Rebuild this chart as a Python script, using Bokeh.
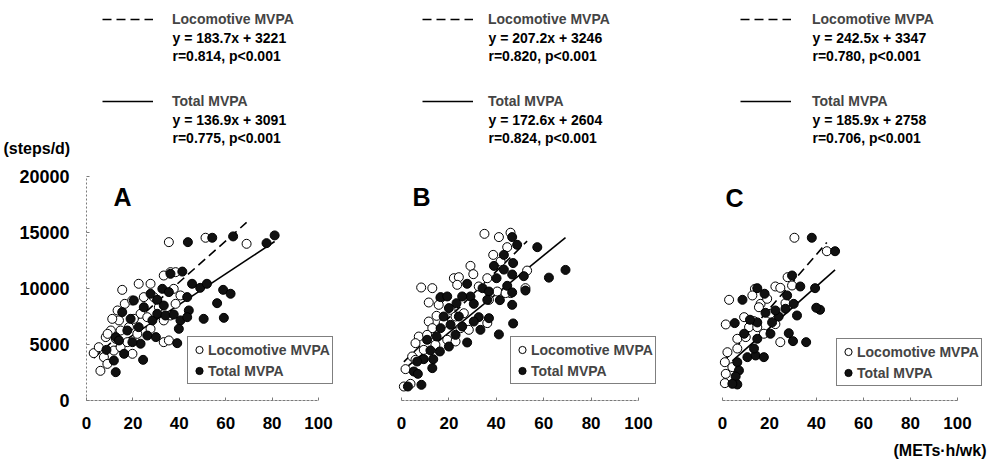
from bokeh.plotting import figure
from bokeh.models import Range1d, FixedTicker, Legend, LegendItem, Label
from bokeh.layouts import row, column
from bokeh.embed import file_html
from bokeh.resources import INLINE

# ---------------- data ----------------
panel_names = ["A", "B", "C"]

a_loco_x = [3.1, 6.0, 35.5, 51.3, 69.0, 15.4, 22.5, 27.6, 16.5, 13.4, 10.5, 8.3, 9.1, 33.3, 36.2, 38.4, 33.3, 35.5,
            37.6, 40.5, 24.7, 29.0, 30.5, 33.3, 23.3, 20.4, 18.3, 14.7, 21.9, 5.3, 7.5, 9.0, 11.8, 14.7, 17.6, 19.8,
            26.2, 31.2, 36.2, 38.4, 14.0, 27.6, 19.7, 11.1, 12.6]
a_loco_y = [4230, 2650, 14140, 14530, 13990, 9880, 10420, 10420, 8630, 8040, 6250, 5660, 5950, 11160, 11460, 11460,
            5210, 5360, 9970, 9380, 9230, 9230, 8930, 7150, 7740, 7290, 6550, 6250, 5950, 4760, 3870, 3270, 4460,
            4760, 5210, 4170, 7440, 8330, 7590, 8630, 7150, 6400, 8930, 7290, 5510]
a_total_x = [43.7, 54.2, 63.2, 77.6, 81.1, 36.2, 41.3, 45.5, 49.0, 51.9, 58.9, 62.1, 56.3, 50.5, 59.2, 44.1, 43.4,
             40.5, 39.8, 39.1, 29.9, 24.4, 12.6, 11.8, 8.6, 12.6, 16.2, 17.6, 19.0, 20.4, 22.5, 23.3, 26.2, 28.4,
             30.5, 32.7, 30.5, 33.3, 34.0, 37.6, 35.5, 43.4, 27.6, 24.7, 15.4, 14.0, 19.8]
a_total_y = [14140, 14530, 14650, 14050, 14740, 11310, 11510, 10420, 10060, 10420, 9880, 9530, 8690, 7290, 7380,
             8040, 9230, 7150, 6400, 5120, 5660, 3630, 2530, 3570, 4520, 5660, 4170, 6250, 7290, 8930, 6550, 5070,
             5800, 7150, 7740, 9970, 8990, 8480, 7590, 7680, 9680, 7440, 9530, 8330, 7890, 5360, 5210]

b_loco_x = [35.0, 41.1, 46.0, 44.6, 38.7, 41.8, 29.1, 30.3, 22.1, 24.2, 23.5, 8.3, 13.0, 11.5, 16.5, 36.2, 40.4,
            53.0, 46.0, 14.8, 11.5, 13.0, 7.3, 5.9, 4.5, 1.7, 1.0, 3.8, 20.7, 22.8, 26.3, 24.9, 28.4, 36.2, 19.3,
            22.8, 9.4, 5.9, 17.8, 32.6, 36.9, 43.9, 52.3, 15.7, 10.8, 14.3]
b_loco_y = [14880, 14590, 14980, 13690, 13000, 12410, 12020, 11280, 10920, 11010, 10330, 10090, 10030, 8750, 9140,
            10920, 9730, 11600, 9590, 7560, 7050, 6460, 5710, 5120, 3930, 2800, 1250, 1490, 8100, 7500, 7790, 6460,
            6310, 6910, 5420, 5270, 4520, 3630, 6910, 10180, 8990, 9590, 10030, 8540, 5860, 4970]
b_total_x = [46.7, 48.8, 57.3, 43.2, 47.1, 39.0, 62.2, 69.2, 51.6, 43.2, 46.7, 40.1, 44.6, 46.7, 52.3, 41.5, 46.7,
             47.1, 41.1, 27.7, 29.1, 34.2, 36.9, 30.5, 32.6, 33.3, 27.7, 36.9, 16.5, 19.3, 23.2, 25.6, 20.0, 24.2,
             20.7, 16.5, 25.6, 22.8, 20.0, 16.2, 12.2, 13.4, 13.0, 9.4, 6.6, 5.2, 6.9, 8.4, 2.7, 10.8, 14.8, 17.8,
             36.2, 30.5]
b_total_y = [14590, 13900, 13690, 13000, 12270, 12020, 10970, 11660, 11100, 11690, 11250, 10920, 10240, 9650, 9820,
             8960, 8540, 6880, 5900, 10420, 9290, 10030, 9730, 8630, 7440, 6310, 5180, 7350, 9230, 9290, 8690, 9290,
             8250, 7500, 6760, 6460, 6610, 5860, 4820, 4380, 4470, 3690, 2890, 3690, 3480, 2590, 2380, 1400, 1250,
             5420, 5720, 7500, 8990, 7050]

c_loco_x = [30.6, 44.4, 27.7, 22.5, 24.6, 29.6, 13.8, 12.7, 16.2, 2.8, 1.4, 6.3, 9.9, 2.1, 1.0, 1.4, 1.0, 13.4, 15.5,
            19.0, 24.6, 9.2, 6.3, 17.6, 11.3, 20.4, 26.8, 22.5, 4.2, 14.8]
c_loco_y = [14530, 13330, 11010, 10180, 10060, 10270, 9970, 9380, 8630, 8990, 6790, 5510, 5660, 4310, 3420, 2380,
            1550, 7080, 8330, 9080, 5210, 7440, 4640, 5960, 6550, 7740, 8690, 6820, 2980, 6550]
c_total_x = [38.0, 47.9, 29.6, 33.1, 39.4, 14.8, 17.9, 8.5, 27.5, 30.3, 26.8, 41.5, 39.9, 31.7, 18.3, 21.1, 23.9,
             14.8, 11.7, 5.2, 20.4, 28.2, 30.0, 35.6, 14.8, 10.6, 14.1, 17.6, 13.4, 6.3, 7.0, 5.6, 6.3, 4.2, 9.2, 22.5]
c_total_y = [14530, 13330, 11160, 10180, 10030, 10030, 9530, 8990, 9380, 8630, 8190, 8100, 8280, 7590, 7830, 6970,
             7500, 6970, 7210, 6910, 5960, 6010, 5300, 5210, 5510, 3870, 4020, 3870, 4640, 3420, 2680, 2140, 1430,
             1490, 5960, 8040]

loco_x = [a_loco_x, b_loco_x, c_loco_x]
loco_y = [a_loco_y, b_loco_y, c_loco_y]
total_x = [a_total_x, b_total_x, c_total_x]
total_y = [a_total_y, b_total_y, c_total_y]

# regression equations printed on the chart
loco_slope = [183.7, 207.2, 242.5]
loco_icpt = [3221, 3246, 3347]
loco_r = ["0.814", "0.820", "0.780"]
total_slope = [136.9, 172.6, 185.9]
total_icpt = [3091, 2604, 2758]
total_r = ["0.775", "0.824", "0.706"]

x_ticks = [0, 20, 40, 60, 80, 100]
y_ticks = [0, 5000, 10000, 15000, 20000]

# ---------------- layout (pixels; page has no margin) ----------------
PAGE_W = 989
TOP_H = 160                    # text strip above the plots
AXIS_ABS_Y = 400               # page y of the x axis (frame bottom)
PLOT_H = 280                   # plots occupy page y 160..440
BOT_H = 24                     # strip for the x unit, page y 440..464
YPP = 20000 / 224              # data units per pixel (vertical)
Y_END = (AXIS_ABS_Y - TOP_H) * YPP

# per panel: fig_left_abs, width, min_border_left, abs px of x=0, px per unit
geo = [(0, 336, 86, 86, 2.32), (336, 324, 58, 401, 2.37), (660, 329, 55, 722, 2.35)]
letter_pos = [(122, 196), (421, 196), (734, 197)]
top_dash_abs = [102, 422, 740]
top_text_abs = [172, 488, 812]
top_rows = [19, 37, 55]
bot_rows = [101, 119, 137]
leg_box = [(187, 384), (510, 384), (836, 386)]

FONT = "Liberation Sans"
TXT_SIZE = "14px"
NAN = float("nan")


def strip(h):
    s = figure(width=PAGE_W, height=h, output_backend="svg", toolbar_location=None,
               x_range=Range1d(0, PAGE_W), y_range=Range1d(h, 0),
               x_axis_location=None, y_axis_location=None,
               min_border_left=0, min_border_right=0, min_border_top=0, min_border_bottom=0)
    s.outline_line_color = None
    s.grid.visible = False
    s.background_fill_color = "white"
    s.border_fill_color = "white"
    return s


# ---- top strip: regression keys and equations ----
top = strip(TOP_H)
# key-only renderers (no visible data; they only supply the key's line style)
key_dash = top.line([NAN, NAN], [NAN, NAN], line_color="black", line_width=1.6, line_dash="9 5")
key_solid = top.line([NAN, NAN], [NAN, NAN], line_color="black", line_width=1.6)
for i in range(3):
    top.add_layout(Legend(items=[LegendItem(label="Locomotive MVPA", renderers=[key_dash]),
                                 LegendItem(label="Total MVPA", renderers=[key_solid])],
                          location=(top_dash_abs[i], TOP_H - (bot_rows[0] + 10)),
                          orientation="vertical", glyph_width=51, glyph_height=20, label_height=20,
                          label_standoff=top_text_abs[i] - top_dash_abs[i] - 51,
                          spacing=bot_rows[0] - top_rows[0] - 20, padding=0, margin=0,
                          border_line_color=None, background_fill_alpha=0,
                          label_text_font=FONT, label_text_font_style="bold", label_text_font_size=TXT_SIZE))
    eq_lines = [("y = %.1fx + %d" % (loco_slope[i], loco_icpt[i]), top_rows[1]),
                ("r=%s, p<0.001" % loco_r[i], top_rows[2]),
                ("y = %.1fx + %d" % (total_slope[i], total_icpt[i]), bot_rows[1]),
                ("r=%s, p<0.001" % total_r[i], bot_rows[2])]
    for txt, yy in eq_lines:
        top.add_layout(Label(x=top_text_abs[i], y=yy, text=txt, text_font=FONT,
                             text_font_style="bold", text_font_size=TXT_SIZE, text_baseline="middle",
                             text_align="left", text_color="black"))
top.add_layout(Label(x=3, y=148, text="(steps/d)", text_font=FONT, text_font_style="bold",
                     text_font_size="16px", text_baseline="middle", text_align="left", text_color="black"))

# ---- the three scatter panels ----
figs = []
for i in range(3):
    fl, W, ml, x0, pxu = geo[i]
    frame_left = fl + ml
    xs = (frame_left - x0) / pxu
    xe = xs + (W - ml) / pxu

    def dx(px):
        return (px - x0) / pxu

    def dy(py):
        return (AXIS_ABS_Y - py) * YPP

    p = figure(width=W, height=PLOT_H, output_backend="svg", toolbar_location=None,
               x_range=Range1d(xs, xe), y_range=Range1d(0, Y_END),
               min_border_left=ml, min_border_right=0, min_border_top=0,
               min_border_bottom=TOP_H + PLOT_H - AXIS_ABS_Y)
    p.outline_line_color = None
    p.grid.visible = False
    p.background_fill_color = "white"
    p.border_fill_color = "white"

    ax = p.xaxis[0]
    ax.bounds = (0, 100)
    ax.ticker = FixedTicker(ticks=x_ticks)
    ax.axis_line_color = "#7a7a7a"
    ax.axis_line_width = 1
    ax.axis_line_dash = "3 1"
    ax.major_tick_in = 3
    ax.major_tick_out = 0
    ax.major_tick_line_color = "#7a7a7a"
    ax.minor_tick_line_color = None
    ax.major_label_standoff = 16
    ax.major_label_text_font = FONT
    ax.major_label_text_font_style = "bold"
    ax.major_label_text_font_size = "17px"
    ax.major_label_text_color = "black"

    ay = p.yaxis[0]
    if i == 0:
        ay.bounds = (0, 20000)
        ay.ticker = FixedTicker(ticks=y_ticks)
        ay.axis_line_color = "#7a7a7a"
        ay.axis_line_dash = "2 2"
        ay.major_tick_in = 3
        ay.major_tick_out = 0
        ay.major_tick_line_color = "#7a7a7a"
        ay.minor_tick_line_color = None
        ay.major_label_standoff = 17
        ay.major_label_text_font = FONT
        ay.major_label_text_font_style = "bold"
        ay.major_label_text_font_size = "18px"
        ay.major_label_text_color = "black"
    else:
        ay.visible = False

    # regression lines from the printed equations, over the data extent
    lx = [min(loco_x[i]), max(loco_x[i])]
    ly = [loco_slope[i] * v + loco_icpt[i] for v in lx]
    tx = [min(total_x[i]), max(total_x[i])]
    ty = [total_slope[i] * v + total_icpt[i] for v in tx]
    p.line(lx, ly, line_color="black", line_width=1.6, line_dash="9 5")
    p.line(tx, ty, line_color="black", line_width=1.6)

    r_open = p.scatter(loco_x[i], loco_y[i], marker="circle", size=9,
                       fill_color="white", line_color="black", line_width=1)
    r_fill = p.scatter(total_x[i], total_y[i], marker="circle", size=9,
                       fill_color="#111111", line_color="black", line_width=1)

    # panel letter
    lpx, lpy = letter_pos[i]
    p.add_layout(Label(x=dx(lpx), y=dy(lpy), text=panel_names[i], text_font=FONT, text_font_style="bold",
                       text_font_size="25px", text_align="center", text_baseline="middle", text_color="black"))

    # marker key
    bx, bb = leg_box[i]
    leg = Legend(items=[LegendItem(label="Locomotive MVPA", renderers=[r_open]),
                        LegendItem(label="Total MVPA", renderers=[r_fill])],
                 location=(bx - frame_left, AXIS_ABS_Y - bb), orientation="vertical",
                 glyph_width=18, glyph_height=21, label_height=21, label_standoff=0,
                 padding=2, spacing=0, margin=0,
                 border_line_color="black", border_line_width=1.2,
                 background_fill_color="white", background_fill_alpha=1,
                 label_text_font=FONT, label_text_font_style="bold", label_text_font_size=TXT_SIZE)
    p.add_layout(leg)
    figs.append(p)

# ---- bottom strip: x unit ----
bot = strip(BOT_H)
bot.add_layout(Label(x=986, y=450 - (TOP_H + PLOT_H), text="(METs\u00b7h/wk)", text_font=FONT,
                     text_font_style="bold", text_font_size="16px", text_baseline="middle",
                     text_align="right", text_color="black"))

layout = column(top, row(*figs, spacing=0), bot, spacing=0)
open("out.html", "w").write(file_html(layout, INLINE))
